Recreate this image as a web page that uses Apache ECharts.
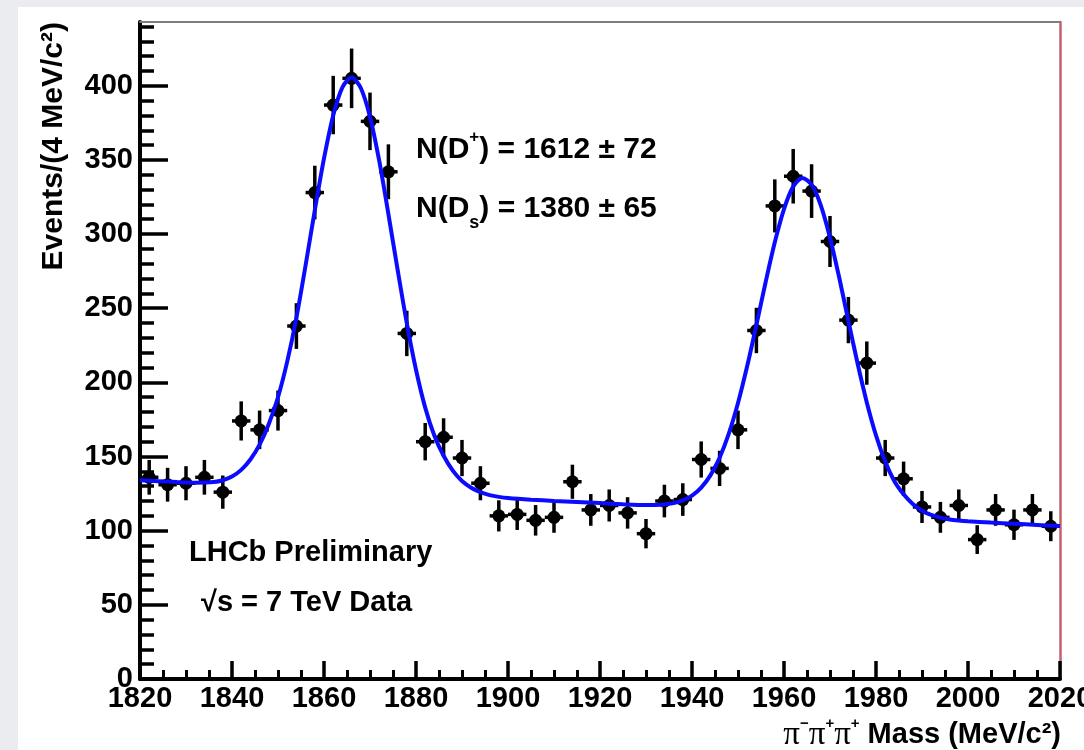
<!DOCTYPE html>
<html>
<head>
<meta charset="utf-8">
<script src="https://cdn.jsdelivr.net/npm/echarts@6/dist/echarts.min.js"></script>
<style>
  html, body { margin: 0; padding: 0; background: #eaecef; width: 1084px; height: 750px; overflow: hidden; }
  #panel { position: absolute; left: 18px; top: 7px; right: 0; bottom: 0; background: #ffffff; }
  #chart { position: absolute; left: 0; top: 0; width: 1084px; height: 750px; }
</style>
</head>
<body>
<div id="panel"></div>
<div id="chart"></div>
<script>
// ---- data ----
const massBins = [1822,1826,1830,1834,1838,1842,1846,1850,1854,1858,1862,1866,1870,1874,1878,1882,1886,1890,1894,1898,
                  1902,1906,1910,1914,1918,1922,1926,1930,1934,1938,1942,1946,1950,1954,1958,1962,1966,1970,1974,1978,
                  1982,1986,1990,1994,1998,2002,2006,2010,2014,2018];
const counts   = [136,131,132,136,126,174,168,181,238,328,387,405,376,342,233,160,163,149,132,110,
                  111,107,109,133,114,117,112,98,120,121,148,142,168,235,319,339,329,295,242,213,
                  149,135,116,109,117,94,114,104,114,103];
const errors   = [11.7,11.4,11.5,11.7,11.2,13.2,13.0,13.5,15.4,18.1,19.7,20.1,19.4,18.5,15.3,12.6,12.8,12.2,11.5,10.5,
                  10.5,10.3,10.4,11.5,10.7,10.8,10.6,9.9,11.0,11.0,12.2,11.9,13.0,15.3,17.9,18.4,18.1,17.2,15.6,14.6,
                  12.2,11.6,10.8,10.4,10.8,9.7,10.7,10.2,10.7,10.1];
const binHalfWidth = 2;

const fitMass   = [1820,1824,1828,1832,1836,1838,1840,1842,1844,1846,1848,1850,1852,1854,1856,1858,1860,1862,1864,1866,
                   1868,1870,1872,1874,1876,1878,1880,1882,1884,1886,1888,1890,1892,1894,1896,1898,1900,1905,1910,1915,
                   1920,1925,1930,1934,1936,1938,1940,1942,1944,1946,1948,1950,1952,1954,1956,1958,1960,1962,1964,1966,
                   1968,1970,1972,1974,1976,1978,1980,1982,1984,1986,1988,1990,1992,1994,1996,1998,2000,2005,2010,2015,2020];
const fitValues = [134.0,133.4,132.8,132.4,132.8,134.0,136.5,141.0,148.0,158.0,172.0,190.0,214.0,243.5,279.0,316.0,351.0,380.0,399.0,405.5,
                   398.5,379.0,349.5,313.5,276.0,240.0,208.5,183.0,164.0,150.5,140.5,133.5,129.0,126.0,124.0,122.8,122.0,120.9,120.1,119.4,
                   118.6,117.8,117.3,117.7,118.6,120.4,123.7,129.1,137.3,149.2,165.4,186.1,211.0,238.7,267.5,294.5,316.9,332.0,337.8,333.3,
                   319.4,297.6,270.7,241.4,212.7,186.5,164.3,146.6,133.3,124.5,118.0,113.5,110.6,108.8,107.6,106.9,106.4,105.5,104.7,103.9,103.1];

const xMin = 1820, xMax = 2020, xStep = 20;
const yMin = 0, yMax = 443;
const yMajorTicks = [0,50,100,150,200,250,300,350,400];
const yMinorTicks = [10,20,30,40,60,70,80,90,110,120,130,140,160,170,180,190,210,220,230,240,
                     260,270,280,290,310,320,330,340,360,370,380,390,410,420,430,440];

const yTitle = 'Events/(4 MeV/c²)';
const labelLine1 = 'LHCb Preliminary';
const labelLine2 = '√s = 7 TeV Data';

// ---- chart ----
const FONT = '"Liberation Sans", Arial, Helvetica, sans-serif';
const chart = echarts.init(document.getElementById('chart'), null, { renderer: 'canvas' });

const pointData = massBins.map((m, i) => [m, counts[i], errors[i]]);
const fitData = fitMass.map((m, i) => [m, fitValues[i]]);

const option = {
  backgroundColor: 'transparent',
  animation: false,
  grid: { left: 140, right: 24, top: 22, bottom: 71, containLabel: false, outerBoundsMode: 'none' },
  xAxis: [
    {
      type: 'value', min: xMin, max: xMax, interval: xStep, position: 'bottom',
      axisLine: { show: true, onZero: false, lineStyle: { color: '#000', width: 4 } },
      axisTick: { show: true, inside: true, length: 18, lineStyle: { color: '#000', width: 3.5 } },
      minorTick: { show: true, splitNumber: 4, length: 9, lineStyle: { color: '#000', width: 3 } },
      axisLabel: { show: true, margin: 5, color: '#000', fontSize: 29, fontWeight: 'bold', fontFamily: FONT,
                   formatter: function (v) { return String(v); },
                   showMinLabel: true, showMaxLabel: true, hideOverlap: false },
      splitLine: { show: false }
    },
    {
      type: 'value', min: xMin, max: xMax, position: 'top',
      axisLine: { show: true, onZero: false, lineStyle: { color: '#7d7d7d', width: 2 } },
      axisTick: { show: false }, axisLabel: { show: false }, splitLine: { show: false }
    }
  ],
  yAxis: [
    {
      type: 'value', min: yMin, max: yMax, position: 'left',
      axisLine: { show: true, onZero: false, lineStyle: { color: '#000', width: 4 } },
      axisTick: { show: true, inside: true, length: 28, customValues: yMajorTicks, lineStyle: { color: '#000', width: 3.5 } },
      axisLabel: { show: true, margin: 7, color: '#000', fontSize: 29, fontWeight: 'bold', fontFamily: FONT,
                   customValues: yMajorTicks, formatter: function (v) { return String(v); } },
      splitLine: { show: false }
    },
    {
      type: 'value', min: yMin, max: yMax, position: 'left',
      axisLine: { show: false },
      axisTick: { show: true, inside: true, length: 14, customValues: yMinorTicks, lineStyle: { color: '#000', width: 3.5 } },
      axisLabel: { show: false }, splitLine: { show: false }
    },
    {
      type: 'value', min: yMin, max: yMax, position: 'right',
      axisLine: { show: true, onZero: false, lineStyle: { color: '#c4606e', width: 2.5 } },
      axisTick: { show: false }, axisLabel: { show: false }, splitLine: { show: false }
    }
  ],
  series: [
    {
      name: 'Data', type: 'custom', xAxisIndex: 0, yAxisIndex: 0,
      data: pointData, encode: { x: 0, y: 1 }, z: 3,
      renderItem: function (params, api) {
        const m = api.value(0), n = api.value(1), e = api.value(2);
        const c = api.coord([m, n]);
        const top = api.coord([m, n + e]);
        const bot = api.coord([m, n - e]);
        const l = api.coord([m - binHalfWidth, n]);
        const r = api.coord([m + binHalfWidth, n]);
        return {
          type: 'group',
          children: [
            { type: 'line', shape: { x1: c[0], y1: top[1], x2: c[0], y2: bot[1] }, style: { stroke: '#000', lineWidth: 3.5 } },
            { type: 'line', shape: { x1: l[0], y1: c[1], x2: r[0], y2: c[1] }, style: { stroke: '#000', lineWidth: 3.5 } },
            { type: 'circle', shape: { cx: c[0], cy: c[1], r: 6.5 }, style: { fill: '#000' } }
          ]
        };
      }
    },
    {
      name: 'Fit', type: 'line', xAxisIndex: 0, yAxisIndex: 0,
      data: fitData, showSymbol: false, symbol: 'none', smooth: 0.3, z: 5,
      lineStyle: { color: '#0b0bff', width: 4 }
    }
  ],
  graphic: [
    {
      type: 'text', x: 54, y: 22, rotation: Math.PI / 2,
      style: { text: yTitle, x: 0, y: 0, textAlign: 'right', textVerticalAlign: 'middle',
               fill: '#000', fontSize: 30, fontWeight: 'bold', fontFamily: FONT }
    },
    {
      type: 'text', x: 1061, y: 735,
      style: {
        text: '{p|π}{s|−}{p|π}{s|+}{p|π}{s|+}{t| Mass (MeV/c²)}',
        textAlign: 'right', textVerticalAlign: 'middle', fill: '#000',
        rich: {
          p: { fontSize: 33, fontFamily: '"Liberation Serif", "DejaVu Serif", serif', fill: '#000' },
          s: { fontSize: 15, fontWeight: 'bold', fontFamily: FONT, fill: '#000', padding: [0, 0, 22, 0] },
          t: { fontSize: 29, fontWeight: 'bold', fontFamily: FONT, fill: '#000' }
        }
      }
    },
    {
      type: 'text', x: 416, y: 150,
      style: {
        text: '{t|N(D}{s|+}{t|) = 1612 ± 72}',
        textAlign: 'left', textVerticalAlign: 'middle', fill: '#000',
        rich: {
          t: { fontSize: 30, fontWeight: 'bold', fontFamily: FONT, fill: '#000' },
          s: { fontSize: 17, fontWeight: 'bold', fontFamily: FONT, fill: '#000', padding: [0, 0, 26, 0] }
        }
      }
    },
    {
      type: 'text', x: 416, y: 209,
      style: {
        text: '{t|N(D}{s|s}{t|) = 1380 ± 65}',
        textAlign: 'left', textVerticalAlign: 'middle', fill: '#000',
        rich: {
          t: { fontSize: 30, fontWeight: 'bold', fontFamily: FONT, fill: '#000' },
          s: { fontSize: 18, fontWeight: 'bold', fontFamily: FONT, fill: '#000', padding: [28, 0, 0, 0] }
        }
      }
    },
    {
      type: 'text', x: 189, y: 553,
      style: { text: labelLine1, textAlign: 'left', textVerticalAlign: 'middle',
               fill: '#000', fontSize: 29, fontWeight: 'bold', fontFamily: FONT }
    },
    {
      type: 'text', x: 201, y: 603,
      style: { text: labelLine2, textAlign: 'left', textVerticalAlign: 'middle',
               fill: '#000', fontSize: 29, fontWeight: 'bold', fontFamily: FONT }
    }
  ]
};
chart.setOption(option);
</script>
</body>
</html>
